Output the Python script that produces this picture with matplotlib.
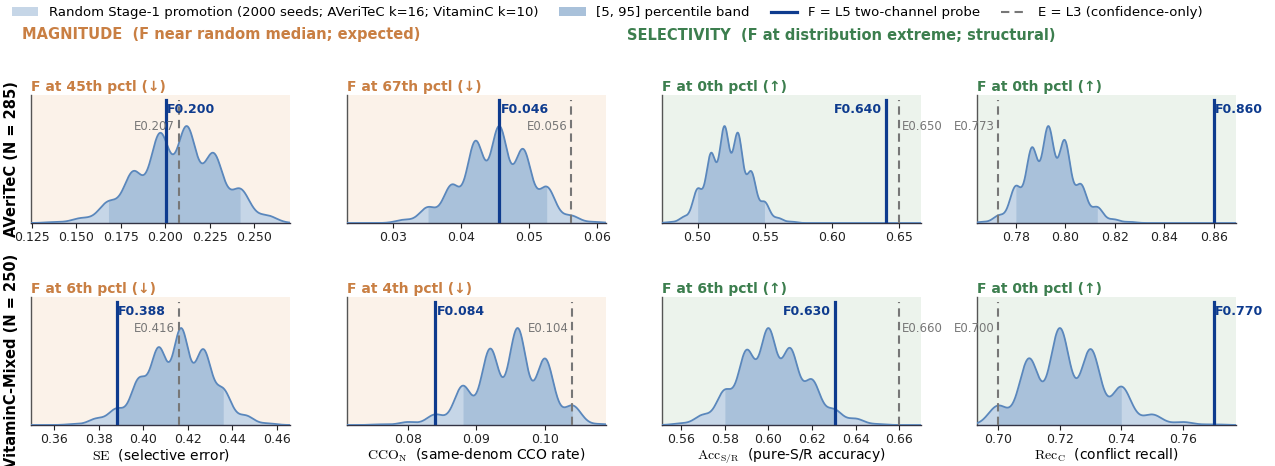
import numpy as np
import matplotlib
matplotlib.use('Agg')
import matplotlib.pyplot as plt
from matplotlib.patches import Patch
from matplotlib.lines import Line2D

plt.rcParams['font.family'] = ['DejaVu Sans']
plt.rcParams['mathtext.fontset'] = 'cm'

# ---------------- data ----------------
row_labels = ['AVeriTeC (N = 285)', 'VitaminC-Mixed (N = 250)']
xlabels = [r'$\mathrm{SE}$  (selective error)',
           r'$\mathrm{CCO}_{\mathrm{N}}$  (same-denom CCO rate)',
           r'$\mathrm{Acc}_{\mathrm{S/R}}$  (pure-S/R accuracy)',
           r'$\mathrm{Rec}_{\mathrm{C}}$  (conflict recall)']
col_group = ['mag', 'mag', 'sel', 'sel']
arrows = ['↓', '↓', '↑', '↑']

# random Stage-1 promotion: distinct metric values and number of seeds (of 2000)
ave_se_vals = [0.138, 0.153, 0.168, 0.182, 0.197, 0.212, 0.227, 0.242, 0.257]
ave_se_counts = [5, 26, 111, 272, 479, 515, 371, 181, 40]
ave_cco_vals = [0.0316, 0.0351, 0.0386, 0.0421, 0.0456, 0.0491, 0.0526, 0.0561, 0.0596]
ave_cco_counts = [18, 89, 214, 464, 547, 417, 203, 42, 6]
ave_acc_vals = [0.48, 0.49, 0.50, 0.51, 0.52, 0.53, 0.54, 0.55, 0.56, 0.57]
ave_acc_counts = [5, 32, 181, 371, 515, 480, 272, 111, 26, 7]
ave_rec_vals = [0.7666, 0.7733, 0.7800, 0.7866, 0.7932, 0.7998, 0.8064, 0.8130, 0.8197, 0.8263]
ave_rec_counts = [6, 42, 204, 420, 539, 462, 213, 88, 20, 6]

vit_se_vals = [0.369, 0.379, 0.388, 0.398, 0.407, 0.417, 0.427, 0.436, 0.446, 0.456]
vit_se_counts = [5, 35, 89, 249, 422, 535, 413, 191, 52, 9]
vit_cco_vals = [0.076, 0.080, 0.084, 0.088, 0.092, 0.096, 0.100, 0.104, 0.108]
vit_cco_counts = [4, 19, 67, 250, 487, 619, 424, 124, 6]
vit_acc_vals = [0.56, 0.57, 0.58, 0.59, 0.60, 0.61, 0.62, 0.63, 0.64, 0.65]
vit_acc_counts = [9, 55, 191, 413, 535, 422, 249, 86, 35, 5]
vit_rec_vals = [0.69, 0.70, 0.71, 0.72, 0.73, 0.74, 0.75, 0.76, 0.77]
vit_rec_counts = [2, 124, 428, 623, 487, 246, 67, 19, 4]

# [5, 95] percentile band
ave_band = [(0.168, 0.242), (0.0351, 0.0526), (0.50, 0.55), (0.7800, 0.8130)]
vit_band = [(0.388, 0.436), (0.088, 0.104), (0.58, 0.63), (0.70, 0.74)]

# F = L5 two-channel probe, E = L3 confidence-only
ave_F = [0.2002, 0.04561, 0.6403, 0.8600]
ave_E = [0.2074, 0.05614, 0.6500, 0.7730]
vit_F = [0.3881, 0.08395, 0.6304, 0.7699]
vit_E = [0.4159, 0.1039, 0.6600, 0.7000]

ave_pctl = [45, 67, 0, 0]
vit_pctl = [6, 4, 6, 0]

# ---------------- layout / style ----------------
W, H = 1275, 466
col_left_px = [31, 347, 662, 977]
ax_w_px = 259
row_top_px = [95, 297]
ax_h_px = 128

xlims = [[(0.1245, 0.270), (0.0232, 0.0613), (0.4735, 0.6664), (0.7644, 0.869)],
         [(0.3495, 0.466), (0.0711, 0.1089), (0.5513, 0.6699), (0.6931, 0.7772)]]
xticks = [[[0.125, 0.150, 0.175, 0.200, 0.225, 0.250], [0.03, 0.04, 0.05, 0.06],
           [0.50, 0.55, 0.60, 0.65], [0.78, 0.80, 0.82, 0.84, 0.86]],
          [[0.36, 0.38, 0.40, 0.42, 0.44, 0.46], [0.08, 0.09, 0.10],
           [0.56, 0.58, 0.60, 0.62, 0.64, 0.66], [0.70, 0.72, 0.74, 0.76]]]
tick_fmt = [['{:.3f}', '{:.2f}', '{:.2f}', '{:.2f}'],
            ['{:.2f}', '{:.2f}', '{:.2f}', '{:.2f}']]
# label side: which side of the line the F / E label is put
F_side = ['right', 'right', 'left', 'right']
E_side = ['left', 'left', 'right', 'left']
bw_scale = 1.12

bg = {'mag': '#FBF2E9', 'sel': '#ECF3EC'}
head_col = {'mag': '#C97F43', 'sel': '#3C7E4E'}
light_fill = '#C6D6E7'
dark_fill = '#A9C1DA'
curve_col = '#5A87BC'
F_col = '#0E3B8E'
E_col = '#777777'

rows = [
    dict(vals=[ave_se_vals, ave_cco_vals, ave_acc_vals, ave_rec_vals],
         counts=[ave_se_counts, ave_cco_counts, ave_acc_counts, ave_rec_counts],
         band=ave_band, F=ave_F, E=ave_E, pctl=ave_pctl),
    dict(vals=[vit_se_vals, vit_cco_vals, vit_acc_vals, vit_rec_vals],
         counts=[vit_se_counts, vit_cco_counts, vit_acc_counts, vit_rec_counts],
         band=vit_band, F=vit_F, E=vit_E, pctl=vit_pctl),
]


def kde(vals, counts, grid):
    v = np.asarray(vals, float)
    c = np.asarray(counts, float)
    w = c / c.sum()
    mu = (v * w).sum()
    sd = np.sqrt(((v - mu) ** 2 * w).sum())
    bw = bw_scale * sd * c.sum() ** (-1 / 5)  # Scott's rule
    z = (grid[:, None] - v[None, :]) / bw
    return (w[None, :] * np.exp(-0.5 * z ** 2)).sum(1) / (bw * np.sqrt(2 * np.pi))


fig = plt.figure(figsize=(W / 100, H / 100), dpi=100)

for r, rd in enumerate(rows):
    for c in range(4):
        l = col_left_px[c] / W
        b = 1 - (row_top_px[r] + ax_h_px) / H
        ax = fig.add_axes([l, b, ax_w_px / W, ax_h_px / H])
        g = col_group[c]
        ax.set_facecolor(bg[g])
        x0, x1 = xlims[r][c]
        grid = np.linspace(x0, x1, 800)
        dens = kde(rd['vals'][c], rd['counts'][c], grid)
        lo, hi = rd['band'][c]
        ax.fill_between(grid, dens, 0, color=light_fill, lw=0, zorder=1)
        m = (grid >= lo) & (grid <= hi)
        ax.fill_between(grid[m], dens[m], 0, color=dark_fill, lw=0, zorder=2)
        ax.plot(grid, dens, color=curve_col, lw=1.3, zorder=3)
        ax.set_xlim(x0, x1)
        ax.set_ylim(0, dens.max() * 1.32)

        F = rd['F'][c]
        E = rd['E'][c]
        ax.axvline(F, ymin=0, ymax=0.96, color=F_col, lw=2.3, zorder=5)
        ax.axvline(E, ymin=0, ymax=0.96, color=E_col, lw=1.5, ls=(0, (4, 2.5)), zorder=4)

        fs = F_side[c]
        ax.annotate(f'F{F:.3f}', xy=(F, 0.885), xycoords=('data', 'axes fraction'),
                    xytext=(1 if fs == 'right' else -2.5, 0), textcoords='offset points',
                    ha='left' if fs == 'right' else 'right', va='center',
                    fontsize=9, fontweight='bold', color=F_col, zorder=6,
                    annotation_clip=False)
        es = E_side[c]
        ax.annotate(f'E{E:.3f}', xy=(E, 0.755), xycoords=('data', 'axes fraction'),
                    xytext=(2 if es == 'right' else -2.5, 0), textcoords='offset points',
                    ha='left' if es == 'right' else 'right', va='center',
                    fontsize=8.5, color=E_col, zorder=6, annotation_clip=False)

        ax.set_title(f'F at {rd["pctl"][c]}th pctl ({arrows[c]})', loc='left',
                     fontsize=10, fontweight='bold', color=head_col[g], pad=3)

        ax.set_yticks([])
        ax.set_xticks(xticks[r][c])
        ax.set_xticklabels([tick_fmt[r][c].format(t) for t in xticks[r][c]])
        ax.tick_params(axis='x', labelsize=9, length=3.5, width=0.8, colors='#222222', pad=2)
        for s in ['top', 'right']:
            ax.spines[s].set_visible(False)
        ax.spines['left'].set_color('#555555')
        ax.spines['left'].set_linewidth(1.0)
        ax.spines['bottom'].set_color('#333344')
        ax.spines['bottom'].set_linewidth(1.0)
        if r == 1:
            ax.set_xlabel(xlabels[c], fontsize=10, labelpad=1)

    yc = 1 - (row_top_px[r] + ax_h_px / 2) / H
    fig.text(12 / W, yc, row_labels[r], rotation=90, ha='center', va='center',
             fontsize=10.5, fontweight='bold')

fig.text(22 / W, 1 - 35 / H, 'MAGNITUDE  (F near random median; expected)',
         ha='left', va='center', fontsize=10.5, fontweight='bold', color=head_col['mag'])
fig.text(627 / W, 1 - 35 / H, 'SELECTIVITY  (F at distribution extreme; structural)',
         ha='left', va='center', fontsize=10.5, fontweight='bold', color=head_col['sel'])

handles = [Patch(facecolor=light_fill, edgecolor='none'),
           Patch(facecolor=dark_fill, edgecolor='none'),
           Line2D([], [], color=F_col, lw=2.3),
           Line2D([], [], color=E_col, lw=1.5, ls=(0, (4, 2.5)))]
labels = ['Random Stage-1 promotion (2000 seeds; AVeriTeC k=16; VitaminC k=10)',
          '[5, 95] percentile band', 'F = L5 two-channel probe',
          'E = L3 (confidence-only)']
fig.legend(handles, labels, loc='upper left', bbox_to_anchor=(0.0, 1.012), ncol=4,
           frameon=False, fontsize=9.5, handlelength=2.0, columnspacing=1.6,
           handletextpad=0.8)

fig.savefig('out.png', dpi=100)
